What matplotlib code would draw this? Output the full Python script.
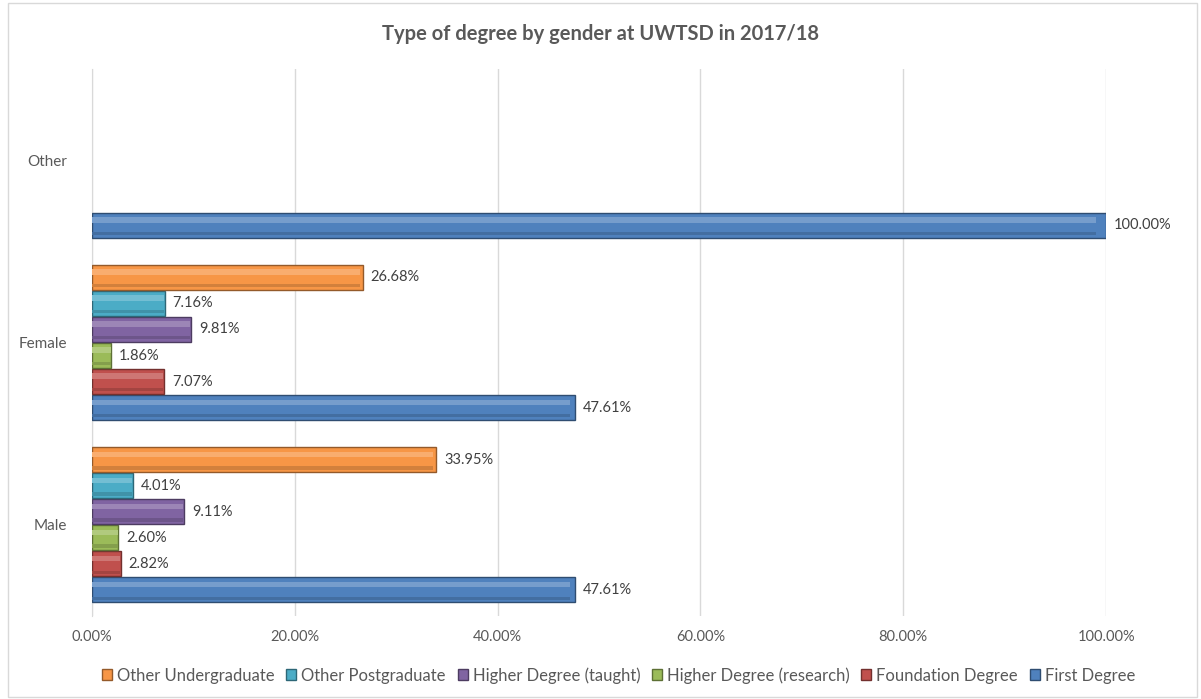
import matplotlib.pyplot as plt
import matplotlib.colors as mcolors
from matplotlib.patches import Rectangle
import numpy as np

plt.rcParams['font.family'] = ['Lato', 'DejaVu Sans']

categories = ["Male", "Female", "Other"]
# bottom to top within each group
series = ["First Degree", "Foundation Degree", "Higher Degree (research)",
          "Higher Degree (taught)", "Other Postgraduate", "Other Undergraduate"]
first_degree = [47.61, 47.61, 100.00]
foundation = [2.82, 7.07, np.nan]
research = [2.60, 1.86, np.nan]
taught = [9.11, 9.81, np.nan]
other_pg = [4.01, 7.16, np.nan]
other_ug = [33.95, 26.68, np.nan]
values = [first_degree, foundation, research, taught, other_pg, other_ug]
colors = ["#4F81BD", "#C0504D", "#9BBB59", "#8064A2", "#4BACC6", "#F79646"]

fig = plt.figure(figsize=(12.01, 6.99), dpi=100)
ax = fig.add_axes([0.0766, 0.119, 0.921 - 0.0766, 0.782])

def shade(c, f):
    r = np.array(mcolors.to_rgb(c))
    if f > 0:
        return tuple(r + (1 - r) * f)
    return tuple(r * (1 + f))

y = np.arange(len(categories))
h = 1 / 7
for i, (name, vals, col) in enumerate(zip(series, values, colors)):
    pos = y + (i - 2.5) * h
    v = np.array(vals, dtype=float)
    ax.barh(pos, v, height=h * 0.96, color=col, edgecolor=shade(col, -0.4),
            linewidth=1.0, label=name, zorder=3)
    # bevel: soft highlight near the top, darker band near the bottom
    ax.barh(pos + h * 0.2, v * 0.99, height=h * 0.22, color=shade(col, 0.22),
            linewidth=0, zorder=4)
    ax.barh(pos - h * 0.32, v * 0.99, height=h * 0.12, color=shade(col, -0.15),
            linewidth=0, zorder=4)
    for p, val in zip(pos, v):
        if not np.isnan(val):
            ax.text(val + 0.8, p, f"{val:.2f}%", va="center", ha="left",
                    fontsize=10.5, color="#404040", zorder=5)

ax.set_xlim(0, 100)
ax.set_ylim(-0.5, 2.5)
ax.set_xticks(np.arange(0, 101, 20))
ax.set_xticklabels([f"{t:.2f}%" for t in np.arange(0, 101, 20)])
ax.set_yticks(y)
ax.set_yticklabels(categories)
ax.tick_params(axis="both", length=0, labelsize=10.5, colors="#595959")
ax.tick_params(axis="y", labelsize=11, pad=18)
ax.tick_params(axis="x", pad=10)
ax.grid(axis="x", color="#D9D9D9", linewidth=1, zorder=0)
for s in ["top", "right", "bottom"]:
    ax.spines[s].set_visible(False)
ax.spines["left"].set_color("#D9D9D9")

fig.suptitle("Type of degree by gender at UWTSD in 2017/18", y=0.965,
             fontsize=14.5, fontweight="bold", color="#595959")

handles, labels = ax.get_legend_handles_labels()
fig.legend(handles[::-1], labels[::-1], loc="center", bbox_to_anchor=(0.515, 0.034),
           ncol=6, frameon=False, fontsize=12, handlelength=0.6, handleheight=0.6,
           handletextpad=0.3, columnspacing=0.7, labelcolor="#595959")

fig.patches.append(Rectangle((0.007, 0.003), 0.99, 0.993, transform=fig.transFigure,
                             fill=False, edgecolor="#D9D9D9", linewidth=1))

fig.savefig("out.png", dpi=100, facecolor="white")
